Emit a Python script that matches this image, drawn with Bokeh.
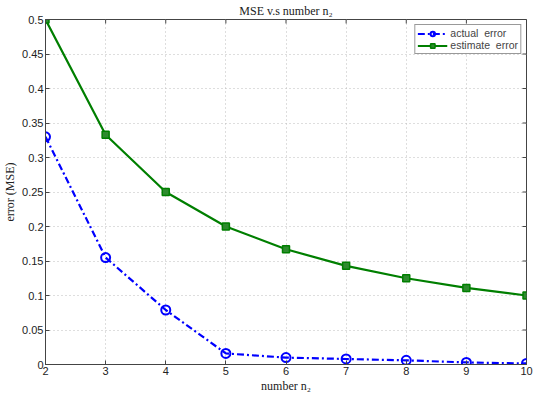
import math

from bokeh.plotting import figure
from bokeh.models import FixedTicker, Range1d, Legend, LegendItem
from bokeh.embed import file_html
from bokeh.resources import INLINE

n2 = [2, 3, 4, 5, 6, 7, 8, 9, 10]
actual_error = [0.330, 0.155, 0.079, 0.016, 0.010, 0.008, 0.006, 0.003, 0.0015]
estimate_error = [0.500, 0.333, 0.250, 0.200, 0.167, 0.143, 0.125, 0.111, 0.100]
x_ticks = [2, 3, 4, 5, 6, 7, 8, 9, 10]
y_ticks = [0, 0.05, 0.1, 0.15, 0.2, 0.25, 0.3, 0.35, 0.4, 0.45, 0.5]

SANS = "Liberation Sans"
SERIF = "Liberation Serif"
AX = "#444444"


def main():
    xr = Range1d(2, 10)
    yr = Range1d(0, 0.5)
    p = figure(width=534, height=395, output_backend="svg", toolbar_location=None,
               x_range=xr, y_range=yr,
               title="MSE v.s number n₂", x_axis_label="number n₂",
               y_axis_label="error (MSE)",
               min_border_left=30, min_border_right=8, min_border_top=4,
               min_border_bottom=2)

    p.title.align = "center"
    p.title.text_font = SERIF
    p.title.text_font_style = "normal"
    p.title.text_font_size = "12px"
    p.title.text_color = "#222222"
    p.title.offset = 0
    p.title.standoff = 3

    p.outline_line_color = AX
    p.outline_line_width = 1

    for ax in (p.xaxis[0], p.yaxis[0]):
        ax.major_tick_in = 4
        ax.major_tick_out = 0
        ax.minor_tick_in = 0
        ax.minor_tick_out = 0
        ax.axis_line_color = AX
        ax.major_tick_line_color = AX
        ax.major_label_text_font = SANS
        ax.major_label_text_font_size = "11px"
        ax.major_label_text_color = "#222222"
        ax.axis_label_text_font = SERIF
        ax.axis_label_text_font_style = "normal"
        ax.axis_label_text_font_size = "12px"
        ax.axis_label_text_color = "#222222"
    p.xaxis[0].ticker = FixedTicker(ticks=x_ticks)
    p.yaxis[0].ticker = FixedTicker(ticks=y_ticks)
    p.xaxis[0].major_label_standoff = 2
    p.xaxis[0].axis_label_standoff = 1
    p.yaxis[0].major_label_standoff = 2
    p.yaxis[0].axis_label_standoff = 2

    p.xgrid.ticker = FixedTicker(ticks=x_ticks)
    p.ygrid.ticker = FixedTicker(ticks=y_ticks)
    p.grid.grid_line_color = "#bdbdbd"
    p.grid.grid_line_dash = "1 3"
    p.grid.grid_line_width = 1

    # inward ticks on top and right edges of the box
    p.scatter(x_ticks, [yr.end] * len(x_ticks), marker="dash", angle=math.pi / 2,
              size=8, line_color=AX, line_width=1)
    p.scatter([xr.end] * len(y_ticks), y_ticks, marker="dash",
              size=8, line_color=AX, line_width=1)

    l1 = p.line(n2, actual_error, color="#0000ff", line_width=2.2, line_dash="7 3 2 3")
    m1 = p.scatter(n2, actual_error, marker="circle", size=9, line_color="#0000ff",
                   fill_color=None, line_width=2)
    l2 = p.line(n2, estimate_error, color="#007f00", line_width=2.2)
    m2 = p.scatter(n2, estimate_error, marker="square", size=7, line_color="#007f00",
                   fill_color="#2e8b2e", line_width=1.5)

    legend = Legend(items=[LegendItem(label="actual  error", renderers=[l1, m1]),
                           LegendItem(label="estimate  error", renderers=[l2, m2])],
                    location="top_right")
    legend.label_text_font = SANS
    legend.label_text_font_size = "10.5px"
    legend.label_height = 11
    legend.glyph_height = 11
    legend.glyph_width = 30
    legend.spacing = 0
    legend.padding = 2
    legend.margin = 5
    legend.border_line_color = "#333333"
    legend.border_line_width = 1
    legend.label_standoff = 3
    p.add_layout(legend)

    open("out.html", "w").write(file_html(p, INLINE))


if __name__ == "__main__":
    main()
